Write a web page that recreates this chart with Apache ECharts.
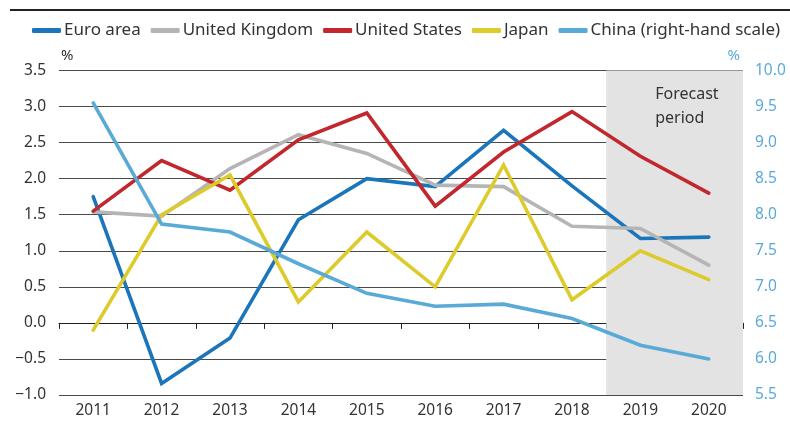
<!DOCTYPE html>
<html>
<head>
<meta charset="utf-8">
<script src="https://cdn.jsdelivr.net/npm/echarts@6/dist/echarts.min.js"></script>
<style>
  html, body { margin: 0; padding: 0; background: #fff; }
  #chart { width: 790px; height: 421px; }
</style>
</head>
<body>
<div id="chart"></div>
<script>
const years = ['2011', '2012', '2013', '2014', '2015', '2016', '2017', '2018', '2019', '2020']
const euroArea = [1.75, -0.84, -0.21, 1.43, 2.0, 1.89, 2.67, 1.9, 1.17, 1.19]
const unitedKingdom = [1.54, 1.48, 2.14, 2.61, 2.35, 1.91, 1.89, 1.34, 1.31, 0.8]
const unitedStates = [1.55, 2.25, 1.84, 2.54, 2.91, 1.62, 2.37, 2.93, 2.31, 1.8]
const japan = [-0.1, 1.5, 2.05, 0.29, 1.26, 0.5, 2.19, 0.32, 1.0, 0.6]
const china = [9.55, 7.87, 7.76, 7.32, 6.91, 6.73, 6.76, 6.56, 6.19, 6.0]
// forecast band, in category units on the hidden value axis
const forecastBand = [8, 10]

const textColor = '#333'
const chinaColor = '#5aaad8'
const font = 'Noto Sans'

const chart = echarts.init(document.getElementById('chart'))

function line(name, data, color, yAxisIndex) {
  return {
    name: name,
    type: 'line',
    data: data,
    yAxisIndex: yAxisIndex || 0,
    symbol: 'none',
    lineStyle: { color: color, width: 3.6, cap: 'round', join: 'miter' },
    itemStyle: { color: color },
    emphasis: { disabled: true },
    z: 3
  }
}

chart.setOption({
  backgroundColor: '#ffffff',
  animation: false,
  textStyle: { fontFamily: font },
  graphic: [{
    type: 'line',
    shape: { x1: 10, y1: 10, x2: 790, y2: 10 },
    style: { stroke: '#222', lineWidth: 2 }
  }],
  legend: {
    top: 17,
    left: 27,
    icon: 'roundRect',
    itemWidth: 29,
    itemHeight: 5,
    itemGap: 10,
    textStyle: { color: textColor, fontSize: 17, fontFamily: font, padding: [0, 0, 0, -2] },
    data: ['Euro area', 'United Kingdom', 'United States', 'Japan', 'China (right-hand scale)']
  },
  grid: { left: 59, right: 47, top: 70.5, bottom: 26 },
  xAxis: [{
    type: 'category',
    data: years,
    boundaryGap: true,
    axisLine: { lineStyle: { color: '#222', width: 1 } },
    axisTick: { show: true, length: 6, lineStyle: { color: '#222' } },
    axisLabel: { color: textColor, fontSize: 15.5, margin: 8 }
  }, {
    type: 'value',
    min: 0,
    max: 10,
    show: false
  }],
  yAxis: [{
    type: 'value',
    min: -1,
    max: 3.5,
    interval: 0.5,
    name: '%',
    nameLocation: 'end',
    nameGap: 7,
    nameTextStyle: { color: textColor, fontSize: 15, align: 'left', padding: [0, 0, 0, 2] },
    axisLine: { show: false },
    axisTick: { show: false },
    splitLine: { lineStyle: { color: '#4a4a4a', width: 1 } },
    axisLabel: {
      color: textColor,
      fontSize: 15.5,
      margin: 13,
      formatter: v => (v < 0 ? '\u2212' + Math.abs(v).toFixed(1) : v.toFixed(1))
    }
  }, {
    type: 'value',
    min: 5.5,
    max: 10,
    interval: 0.5,
    name: '%',
    nameLocation: 'end',
    nameGap: 7,
    nameTextStyle: { color: chinaColor, fontSize: 15, align: 'right', padding: [0, 3, 0, 0] },
    axisLine: { show: false },
    axisTick: { show: false },
    splitLine: { show: false },
    axisLabel: {
      color: chinaColor,
      fontSize: 15.5,
      margin: 12,
      formatter: v => v.toFixed(1)
    }
  }],
  series: [
    {
      name: 'forecast',
      type: 'line',
      xAxisIndex: 1,
      data: [],
      silent: true,
      z: 1,
      markArea: {
        silent: true,
        itemStyle: { color: '#e3e3e3' },
        label: {
          show: true,
          position: [49, 12],
          align: 'left',
          color: textColor,
          fontSize: 16,
          lineHeight: 24,
          fontFamily: font
        },
        data: [[
          { name: 'Forecast\nperiod', xAxis: forecastBand[0] },
          { xAxis: forecastBand[1] }
        ]]
      }
    },
    line('Euro area', euroArea, '#1a75bb'),
    line('United Kingdom', unitedKingdom, '#b5b5b5'),
    line('United States', unitedStates, '#c1272d'),
    line('Japan', japan, '#dccb2a'),
    line('China (right-hand scale)', china, chinaColor, 1)
  ]
})
</script>
</body>
</html>
